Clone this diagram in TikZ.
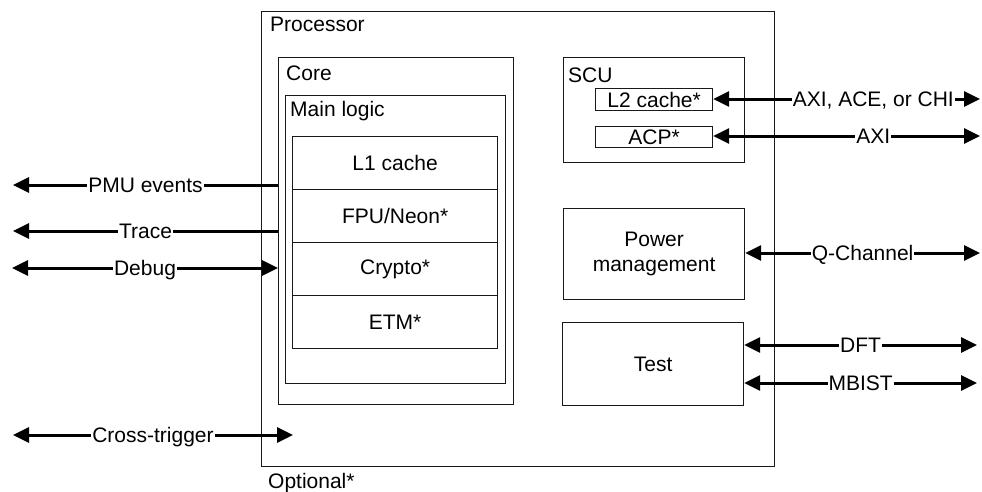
\documentclass[tikz,border=0pt]{standalone}
\usepackage{fontspec}
\setmainfont{Liberation Sans}
\usetikzlibrary{arrows.meta}
\tikzset{
  box/.style={draw=black!90, line width=1.2pt, anchor=north west, inner sep=0pt},
  title/.style={anchor=base west, inner sep=0pt},
  lab/.style={fill=white, inner sep=1pt, text height=15pt, text depth=1pt},
  sig/.style={line width=3pt, -{Triangle[length=16pt,width=15pt]}},
  bus/.style={line width=3pt, {Triangle[length=16pt,width=15pt]}-{Triangle[length=16pt,width=15pt]}},
}
\begin{document}
\begin{tikzpicture}[x=1pt,y=-1pt,font=\fontsize{21}{25}\selectfont]
\useasboundingbox (0,0) rectangle (982,491);

% outer containers
\node[box, minimum width=513pt, minimum height=455pt] (proc) at (261,11) {};
\node[title] (proctitle) at (270,31) {Processor};
\node[title] (opt) at (268,488) {Optional*};

\node[box, minimum width=235pt, minimum height=347pt] (core) at (278,57) {};
\node[title] (coretitle) at (286,80) {Core};
\node[box, minimum width=220pt, minimum height=288pt] (main) at (285,95) {};
\node[title] (maintitle) at (290,116) {Main logic};

% core sub-blocks
\node[box, minimum width=205pt, minimum height=53pt] (l1) at (292,136) {};
\node at (l1.center) {L1 cache};
\node[box, minimum width=205pt, minimum height=53pt] (fpu) at (292,189) {};
\node at (fpu.center) {FPU/Neon*};
\node[box, minimum width=205pt, minimum height=53pt] (crypto) at (292,242) {};
\node at (crypto.center) {Crypto*};
\node[box, minimum width=205pt, minimum height=53pt] (etm) at (292,295) {};
\node at (etm.center) {ETM*};

% snoop control unit
\node[box, minimum width=181pt, minimum height=105pt] (scu) at (563,57) {};
\node[title] (scutitle) at (568,82) {SCU};
\node[box, minimum width=117pt, minimum height=22pt] (l2) at (595,88) {};
\node at (l2.center) {L2 cache*};
\node[box, minimum width=117pt, minimum height=21pt] (acp) at (595,126) {};
\node at (acp.center) {ACP*};

% power and test
\node[box, minimum width=181pt, minimum height=91pt, align=center] (pm) at (563,208) {};
\node[align=center] at (pm.center) {Power\\management};
\node[box, minimum width=181pt, minimum height=83pt] (test) at (562,322) {};
\node at (test.center) {Test};

% free ends of the interfaces
\coordinate (pmuEnd) at (13,185);
\coordinate (traceEnd) at (13,231);
\coordinate (dbgEnd) at (12,268);
\coordinate (ctiL) at (13,435);
\coordinate (ctiR) at (293,435);
\coordinate (axiEnd) at (980,99);
\coordinate (acpEnd) at (980,136);
\coordinate (qEnd) at (980,253);
\coordinate (dftEnd) at (977,345);
\coordinate (mbEnd) at (977,383);

% left-hand interfaces
\draw[sig] (core.west |- pmuEnd) -- node[lab, midway] {PMU events} (pmuEnd);
\draw[sig] (core.west |- traceEnd) -- node[lab, midway] {Trace} (traceEnd);
\draw[bus] (dbgEnd) -- node[lab, midway] {Debug} (core.west |- dbgEnd);
\draw[bus] (ctiL) -- node[lab, midway] {Cross-trigger} (ctiR);

% right-hand interfaces
\draw[bus] (l2.east |- axiEnd) -- node[lab, pos=0.6] {AXI, ACE, or CHI} (axiEnd);
\draw[bus] (acp.east |- acpEnd) -- node[lab, pos=0.6] {AXI} (acpEnd);
\draw[bus] (pm.east |- qEnd) -- node[lab, midway] {Q-Channel} (qEnd);
\draw[bus] (test.east |- dftEnd) -- node[lab, midway] {DFT} (dftEnd);
\draw[bus] (test.east |- mbEnd) -- node[lab, midway] {MBIST} (mbEnd);
\end{tikzpicture}
\end{document}
